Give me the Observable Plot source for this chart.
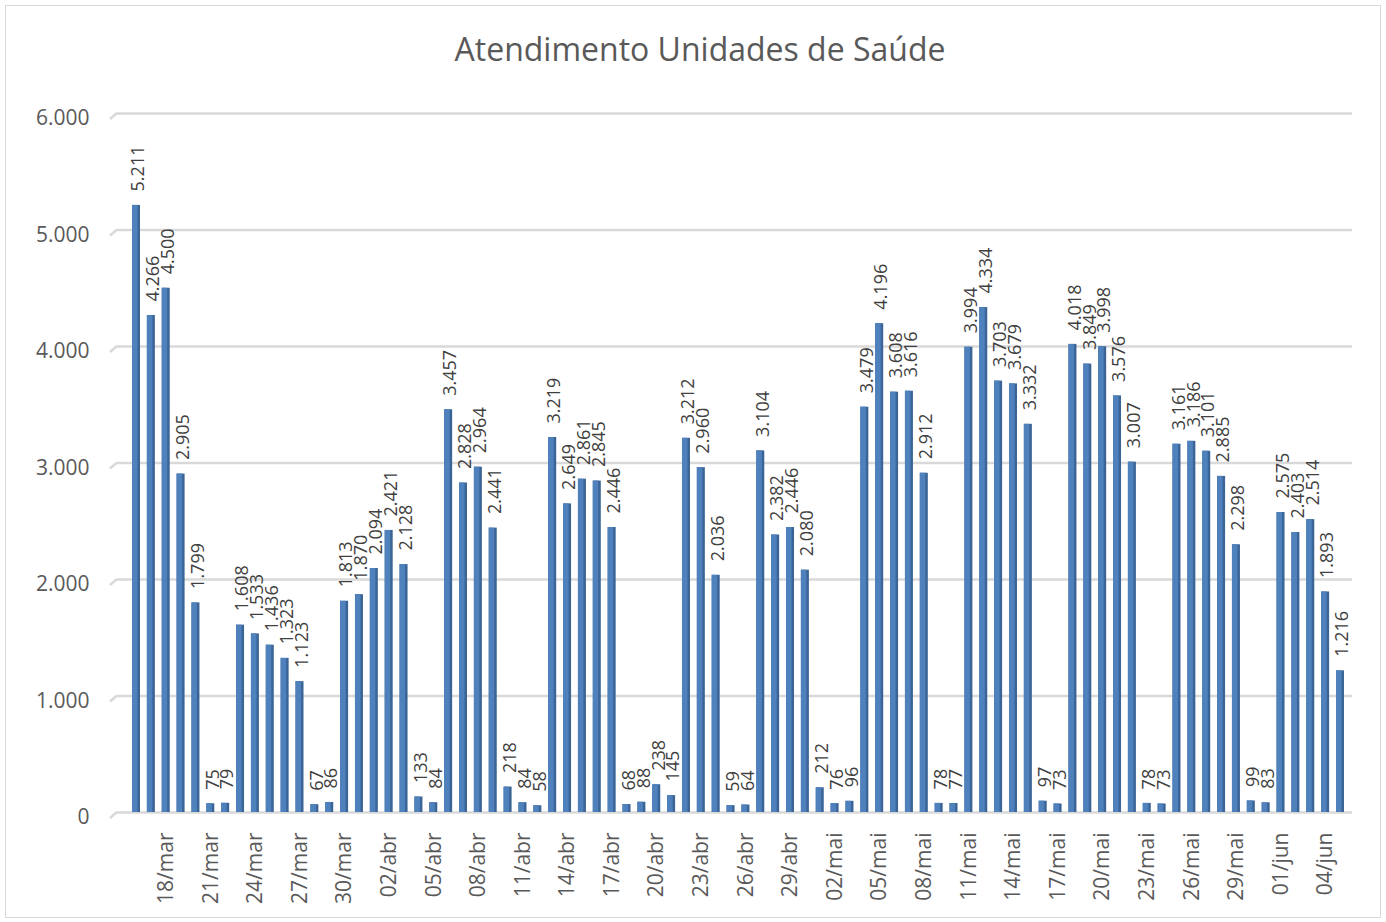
<!DOCTYPE html>
<html><head><meta charset="utf-8">
<script src="https://cdn.jsdelivr.net/npm/d3@7"></script>
<script src="https://cdn.jsdelivr.net/npm/@observablehq/plot@0.6"></script>
<style>
body{margin:0;background:#fff;font-family:"Open Sans",sans-serif;}
#wrap{position:relative;width:1386px;height:922px;overflow:hidden;background:#fff;}
#frame{position:absolute;left:5px;top:5px;width:1376px;height:913px;border:1px solid #d9d9d9;box-sizing:border-box;}
#title{position:absolute;left:0;top:27px;width:1400px;text-align:center;font-size:32px;color:#595959;line-height:normal;white-space:nowrap;}
#chart{position:absolute;left:0;top:90px;}
</style></head>
<body>
<div id="wrap">
<div id="frame"></div>
<div id="title">Atendimento Unidades de Saúde</div>
<div id="chart"></div>
</div>
<script>
const dates = [
"16/mar","17/mar","18/mar","19/mar","20/mar","21/mar","22/mar","23/mar","24/mar","25/mar","26/mar","27/mar","28/mar","29/mar","30/mar","31/mar",
"01/abr","02/abr","03/abr","04/abr","05/abr","06/abr","07/abr","08/abr","09/abr","10/abr","11/abr","12/abr","13/abr","14/abr","15/abr","16/abr","17/abr","18/abr","19/abr","20/abr","21/abr","22/abr","23/abr","24/abr","25/abr","26/abr","27/abr","28/abr","29/abr","30/abr",
"01/mai","02/mai","03/mai","04/mai","05/mai","06/mai","07/mai","08/mai","09/mai","10/mai","11/mai","12/mai","13/mai","14/mai","15/mai","16/mai","17/mai","18/mai","19/mai","20/mai","21/mai","22/mai","23/mai","24/mai","25/mai","26/mai","27/mai","28/mai","29/mai","30/mai","31/mai",
"01/jun","02/jun","03/jun","04/jun","05/jun"
];
const values = [
5211,4266,4500,2905,1799,75,79,1608,1533,1436,1323,1123,67,86,1813,1870,
2094,2421,2128,133,84,3457,2828,2964,2441,218,84,58,3219,2649,2861,2845,2446,68,88,238,145,3212,2960,2036,59,64,3104,2382,2446,2080,
212,76,96,3479,4196,3608,3616,2912,78,77,3994,4334,3703,3679,3332,97,73,4018,3849,3998,3576,3007,78,73,3161,3186,3101,2885,2298,99,83,
2575,2403,2514,1893,1216
];
const xTickLabels = ["18/mar","21/mar","24/mar","27/mar","30/mar","02/abr","05/abr","08/abr","11/abr","14/abr","17/abr","20/abr","23/abr","26/abr","29/abr","02/mai","05/mai","08/mai","11/mai","14/mai","17/mai","20/mai","23/mai","26/mai","29/mai","01/jun","04/jun"];
const yTicks = [0,1000,2000,3000,4000,5000,6000];

const ptBR = d3.formatLocale({decimal:",", thousands:".", grouping:[3], currency:["R$ ",""]});
const fmt = ptBR.format(",d");
const data = dates.map((d,i)=>({date:d, value:values[i]}));

const chart = Plot.plot({
  width: 1386, height: 832,
  marginLeft: 117, marginRight: 34, marginTop: 23, marginBottom: 110,
  style: {fontFamily: "'Open Sans', sans-serif", background: "transparent"},
  x: {domain: dates, range: [132, 1344], paddingInner: 0.462, paddingOuter: 0, round: false, label: null, axis: null},
  y: {domain: [0, 6000], label: null, axis: null},
  marks: [
    Plot.ruleY(yTicks, {stroke: "#d9d9d9", strokeWidth: 2.5}),
    Plot.barY(data, {x: "date", y: "value", fill: "#3b6597"}),
    Plot.barY(data, {x: "date", y: "value", fill: "#4f81bd", insetRight: 2.5}),
    Plot.text(data, {x: "date", y: "value", text: d => fmt(d.value), rotate: -90, textAnchor: "start", dy: -14, dx: 2, fill: "#404040", fontSize: 18}),
    Plot.axisY(yTicks, {tickSize: 0, tickPadding: 28, dy: 5, tickFormat: fmt, fontSize: 21, color: "#595959", label: null}),
    Plot.axisX(xTickLabels, {tickSize: 0, tickRotate: -90, tickPadding: 20, fontSize: 21, color: "#595959", label: null})
  ]
});
// 3D floor slant at the left end of each gridline, placed with the plot's own y scale
const ys = chart.scale("y");
d3.select(chart).append("g").selectAll("line").data(yTicks).join("line")
  .attr("x1", 110).attr("x2", 117)
  .attr("y1", d => ys.apply(d) + 6).attr("y2", d => ys.apply(d))
  .attr("stroke", "#d9d9d9").attr("stroke-width", 2.5);
document.getElementById("chart").appendChild(chart);
</script>
</body></html>
